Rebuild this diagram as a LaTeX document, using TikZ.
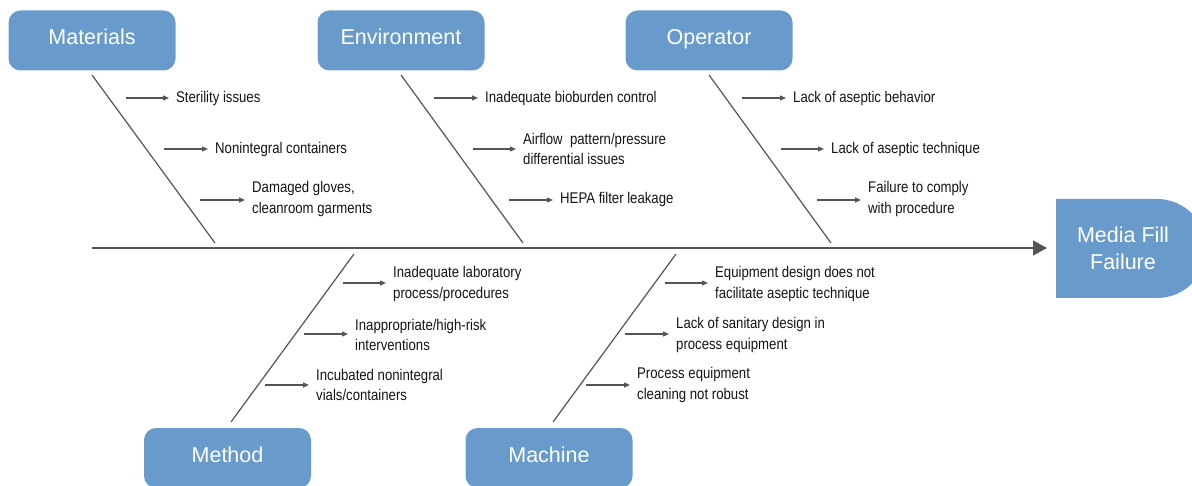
\documentclass[tikz,border=0pt]{standalone}
\usepackage{fontspec}
\setmainfont{Liberation Sans}
\newfontfamily\condfont{Liberation Sans}[FakeStretch=0.85]
\usetikzlibrary{arrows.meta}
\definecolor{boxblue}{RGB}{104,155,204}
\definecolor{linegray}{RGB}{85,85,85}
\definecolor{txt}{RGB}{20,20,20}

\begin{document}
\begin{tikzpicture}[x=1pt,y=-1pt,
  category/.style={fill=boxblue, rounded corners=12pt, minimum width=167pt,
    minimum height=60pt, inner sep=0pt, text height=15pt, text depth=6pt,
    text=white, font=\fontsize{21.5}{25}\selectfont},
  headtext/.style={inner sep=0pt, align=center, text=white,
    font=\fontsize{21.5}{27}\selectfont},
  bone/.style={draw=linegray, line width=1.2pt},
  spine/.style={draw=linegray, line width=1.3pt, -{Triangle[length=14pt,width=15pt]}},
  cause/.style={draw=linegray, line width=1.3pt, -{Triangle[length=6pt,width=5pt]}, shorten >=7pt},
  item/.style={anchor=west, inner sep=0pt, align=left, text=txt,
    font=\condfont\fontsize{15.5}{20.5}\selectfont},
]
\clip (0,0) rectangle (1192,486);

% category boxes
\node[category] (mat) at (92,40.5)  {Materials};
\node[category] (env) at (401,40.5) {Environment};
\node[category] (op)  at (709,40.5) {Operator};
\node[category] (met) at (227.5,458) {Method};
\node[category] (mac) at (549,458)  {Machine};

% effect head: flat left side, round right side
\fill[boxblue] (1056,199) -- (1157,199) arc[start angle=-90, end angle=90, radius=49.5]
  -- (1056,298) -- cycle;
\node[headtext] (head) at (1123,248.5) {Media Fill\\Failure};
\coordinate (headin) at (1056,248);

% spine
\coordinate (tail) at (92,248);
\draw[spine, shorten >=9pt] (tail) -- (headin);

% bones
\coordinate (matend) at (215,243);
\coordinate (envend) at (523,243);
\coordinate (opend)  at (831,243);
\coordinate (metend) at (354,254);
\coordinate (macend) at (676,254);
\coordinate (mattop) at (92,75);
\coordinate (envtop) at (401,75);
\coordinate (optop)  at (709,75);
\coordinate (metbot) at (231,422);
\coordinate (macbot) at (553,422);
\draw[bone] (mattop) -- (matend);
\draw[bone] (envtop) -- (envend);
\draw[bone] (optop)  -- (opend);
\draw[bone] (metbot) -- (metend);
\draw[bone] (macbot) -- (macend);

% Materials causes
\node[item] (m1) at (176,98)  {Sterility issues};
\node[item] (m2) at (215,149) {Nonintegral containers};
\node[item] (m3) at (252,199) {Damaged gloves,\\cleanroom garments};
\coordinate (m1s) at (126,98);
\coordinate (m2s) at (164,149);
\coordinate (m3s) at (200,200);
\draw[cause] (m1s) -- (m1.west |- m1s);
\draw[cause] (m2s) -- (m2.west |- m2s);
\draw[cause] (m3s) -- (m3.west |- m3s);

% Environment causes
\node[item] (e1) at (485,98)  {Inadequate bioburden control};
\node[item] (e2) at (523,149) {Airflow\ \ pattern/pressure\\differential issues};
\node[item] (e3) at (560,199) {HEPA filter leakage};
\coordinate (e1s) at (434,98);
\coordinate (e2s) at (473,149);
\coordinate (e3s) at (509,200);
\draw[cause] (e1s) -- (e1.west |- e1s);
\draw[cause] (e2s) -- (e2.west |- e2s);
\draw[cause] (e3s) -- (e3.west |- e3s);

% Operator causes
\node[item] (o1) at (793,98)  {Lack of aseptic behavior};
\node[item] (o2) at (831,149) {Lack of aseptic technique};
\node[item] (o3) at (868,199) {Failure to comply\\with procedure};
\coordinate (o1s) at (742,98);
\coordinate (o2s) at (781,149);
\coordinate (o3s) at (817,200);
\draw[cause] (o1s) -- (o1.west |- o1s);
\draw[cause] (o2s) -- (o2.west |- o2s);
\draw[cause] (o3s) -- (o3.west |- o3s);

% Method causes
\node[item] (t1) at (393,284) {Inadequate laboratory\\process/procedures};
\node[item] (t2) at (355,335) {Inappropriate/high-risk\\interventions};
\node[item] (t3) at (316,385) {Incubated nonintegral\\vials/containers};
\coordinate (t1s) at (343,283);
\coordinate (t2s) at (304,334);
\coordinate (t3s) at (265,385);
\draw[cause] (t1s) -- (t1.west |- t1s);
\draw[cause] (t2s) -- (t2.west |- t2s);
\draw[cause] (t3s) -- (t3.west |- t3s);

% Machine causes
\node[item] (k1) at (715,284) {Equipment design does not\\facilitate aseptic technique};
\node[item] (k2) at (676,335) {Lack of sanitary design in\\process equipment};
\node[item] (k3) at (637,385) {Process equipment\\cleaning not robust};
\coordinate (k1s) at (665,283);
\coordinate (k2s) at (625,334);
\coordinate (k3s) at (586,385);
\draw[cause] (k1s) -- (k1.west |- k1s);
\draw[cause] (k2s) -- (k2.west |- k2s);
\draw[cause] (k3s) -- (k3.west |- k3s);
\end{tikzpicture}
\end{document}
